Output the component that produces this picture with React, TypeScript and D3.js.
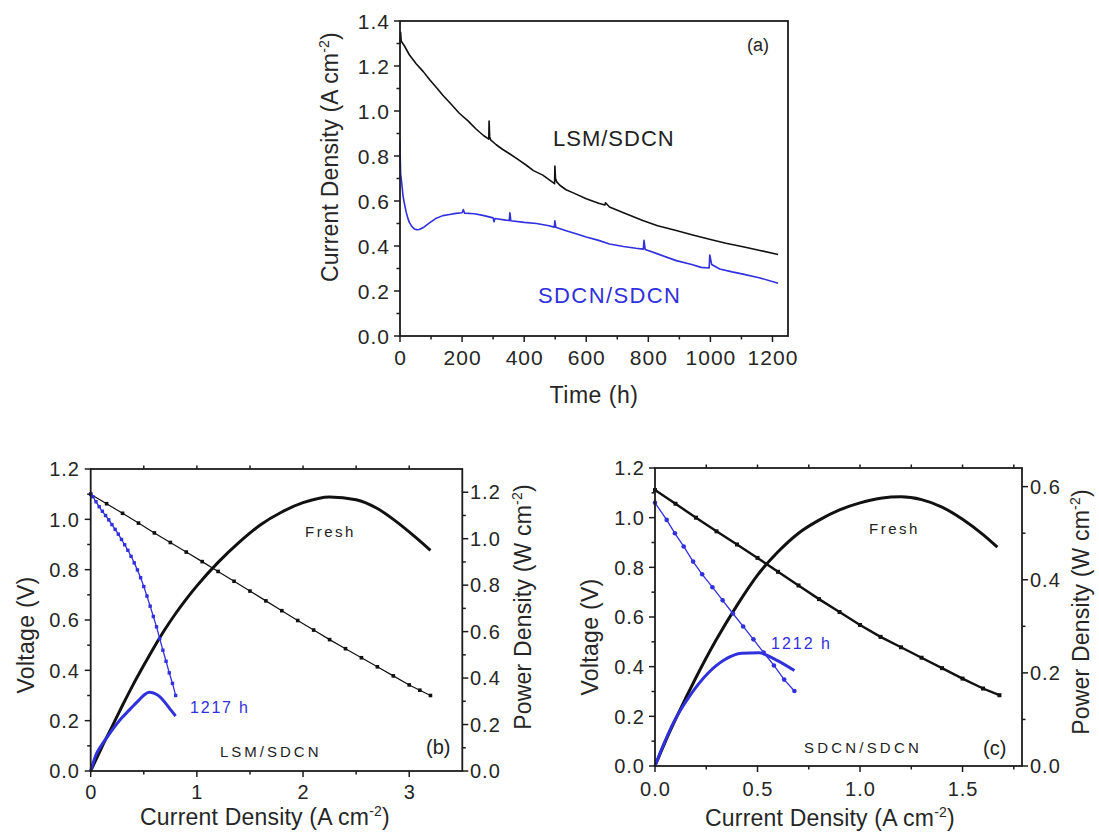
import React from 'react';
import * as d3 from 'd3';

const FONT = '"Liberation Sans", Arial, Helvetica, sans-serif';
const BLUE = '#3030dc';
const INK = '#1c1c1c';
const TXT = '#262626';

// ---------- panel (a): current density vs time ----------
const aLsmTime = [0, 2, 4, 14, 30, 52, 75, 95, 120, 138, 165, 191, 220, 245, 270, 286, 287, 289, 292, 310, 330, 353, 380, 406, 430, 460, 480, 498, 499, 501, 505, 515, 535, 560, 600, 640, 660, 662, 675, 720, 782, 830, 890, 940, 997, 1050, 1105, 1160, 1218];
const aLsmCurrent = [1.30, 1.35, 1.31, 1.29, 1.25, 1.21, 1.175, 1.14, 1.10, 1.07, 1.03, 0.99, 0.955, 0.92, 0.89, 0.875, 0.955, 0.885, 0.872, 0.85, 0.83, 0.81, 0.785, 0.76, 0.735, 0.715, 0.695, 0.677, 0.755, 0.70, 0.685, 0.67, 0.65, 0.635, 0.61, 0.59, 0.582, 0.592, 0.573, 0.548, 0.513, 0.49, 0.469, 0.45, 0.43, 0.412, 0.397, 0.38, 0.362];
const aSdcnTime = [0, 1, 2, 4, 7, 10, 14, 20, 25, 30, 38, 46, 55, 62, 75, 95, 115, 138, 160, 180, 200, 204, 208, 240, 267, 300, 303, 306, 340, 352, 354, 357, 400, 440, 480, 497, 499, 502, 530, 567, 600, 640, 675, 720, 760, 784, 786, 790, 830, 890, 940, 970, 996, 998, 1004, 1030, 1070, 1105, 1160, 1218];
const aSdcnCurrent = [0.87, 0.78, 0.72, 0.70, 0.66, 0.62, 0.59, 0.55, 0.525, 0.505, 0.487, 0.476, 0.472, 0.473, 0.482, 0.503, 0.522, 0.535, 0.54, 0.545, 0.548, 0.562, 0.546, 0.543, 0.536, 0.525, 0.508, 0.522, 0.515, 0.513, 0.548, 0.512, 0.505, 0.50, 0.49, 0.484, 0.512, 0.483, 0.47, 0.454, 0.44, 0.425, 0.409, 0.398, 0.39, 0.386, 0.425, 0.384, 0.365, 0.335, 0.318, 0.305, 0.302, 0.36, 0.318, 0.298, 0.285, 0.275, 0.258, 0.234];
const aTimeTicks = [0, 200, 400, 600, 800, 1000, 1200];
const aCurrentTicks = [0, 0.2, 0.4, 0.6, 0.8, 1.0, 1.2, 1.4];

// ---------- panel (b): LSM/SDCN I-V-P ----------
const bFreshI = [0, 0.15, 0.3, 0.45, 0.6, 0.75, 0.9, 1.05, 1.2, 1.35, 1.5, 1.65, 1.8, 1.95, 2.1, 2.25, 2.4, 2.55, 2.7, 2.85, 3.0, 3.1, 3.2];
const bFreshV = [1.10, 1.062, 1.024, 0.985, 0.946, 0.908, 0.870, 0.832, 0.793, 0.754, 0.715, 0.676, 0.637, 0.598, 0.560, 0.522, 0.486, 0.450, 0.414, 0.378, 0.342, 0.321, 0.300];
const bFreshPI = [0, 0.1, 0.2, 0.3, 0.4, 0.5, 0.6, 0.7, 0.8, 0.9, 1.0, 1.2, 1.4, 1.6, 1.8, 2.0, 2.25, 2.5, 2.7, 2.86, 3.05, 3.2];
const bFreshP = [0, 0.098, 0.19, 0.283, 0.372, 0.455, 0.535, 0.61, 0.678, 0.74, 0.797, 0.898, 0.985, 1.06, 1.115, 1.155, 1.18, 1.168, 1.13, 1.08, 1.01, 0.95];
const bAgedI = [0, 0.02, 0.05, 0.08, 0.11, 0.14, 0.17, 0.20, 0.23, 0.26, 0.29, 0.32, 0.35, 0.38, 0.41, 0.44, 0.47, 0.50, 0.53, 0.56, 0.59, 0.62, 0.65, 0.68, 0.71, 0.74, 0.77, 0.80];
const bAgedV = [1.10, 1.09, 1.07, 1.05, 1.032, 1.015, 0.998, 0.979, 0.960, 0.941, 0.920, 0.899, 0.877, 0.853, 0.827, 0.799, 0.768, 0.733, 0.695, 0.655, 0.614, 0.573, 0.526, 0.48, 0.436, 0.39, 0.348, 0.30];
const bAgedPI = [0, 0.05, 0.1, 0.15, 0.2, 0.25, 0.3, 0.35, 0.4, 0.45, 0.5, 0.55, 0.6, 0.65, 0.7, 0.75, 0.8];
const bAgedP = [0, 0.07, 0.11, 0.143, 0.175, 0.205, 0.232, 0.256, 0.28, 0.303, 0.326, 0.339, 0.334, 0.32, 0.295, 0.265, 0.237];
const bCurrentTicks = [0, 1, 2, 3];
const bVoltageTicks = [0, 0.2, 0.4, 0.6, 0.8, 1.0, 1.2];
const bPowerTicks = [0, 0.2, 0.4, 0.6, 0.8, 1.0, 1.2];

// ---------- panel (c): SDCN/SDCN I-V-P ----------
const cFreshI = [0, 0.1, 0.2, 0.3, 0.4, 0.5, 0.6, 0.7, 0.8, 0.9, 1.0, 1.1, 1.2, 1.3, 1.4, 1.5, 1.6, 1.68];
const cFreshV = [1.111, 1.056, 1.0, 0.945, 0.892, 0.838, 0.782, 0.727, 0.672, 0.62, 0.568, 0.52, 0.478, 0.436, 0.394, 0.352, 0.312, 0.285];
const cFreshPI = [0, 0.05, 0.1, 0.2, 0.3, 0.4, 0.5, 0.6, 0.7, 0.8, 0.9, 1.0, 1.1, 1.2, 1.3, 1.4, 1.5, 1.6, 1.67];
const cFreshP = [0, 0.052, 0.1, 0.19, 0.272, 0.345, 0.41, 0.46, 0.5, 0.528, 0.55, 0.565, 0.575, 0.578, 0.572, 0.556, 0.53, 0.497, 0.47];
const cAgedI = [0, 0.057, 0.097, 0.14, 0.186, 0.23, 0.28, 0.33, 0.38, 0.43, 0.48, 0.53, 0.58, 0.63, 0.68];
const cAgedV = [1.06, 0.991, 0.937, 0.884, 0.823, 0.772, 0.72, 0.667, 0.614, 0.562, 0.51, 0.457, 0.405, 0.348, 0.302];
const cAgedPI = [0, 0.038, 0.089, 0.172, 0.256, 0.339, 0.423, 0.506, 0.59, 0.68];
const cAgedP = [0, 0.042, 0.092, 0.152, 0.198, 0.228, 0.242, 0.243, 0.228, 0.205];
const cCurrentTicks = [0, 0.5, 1.0, 1.5];
const cVoltageTicks = [0, 0.2, 0.4, 0.6, 0.8, 1.0, 1.2];
const cPowerTicks = [0, 0.2, 0.4, 0.6];

type Scale = d3.ScaleLinear<number, number>;

function linePath(xs: number[], ys: number[], sx: Scale, sy: Scale, curve: d3.CurveFactory = d3.curveLinear) {
  const gen = d3.line<number>()
    .x((_, i) => sx(xs[i]))
    .y((_, i) => sy(ys[i]))
    .curve(curve);
  return gen(xs) || '';
}

function Ticks({ scale, values, at, len, orient }: { scale: Scale; values: number[]; at: number; len: number; orient: 'bottom' | 'top' | 'left' | 'right' }) {
  return (
    <g stroke={INK} strokeWidth={1.5}>
      {values.map((v, i) => {
        const p = scale(v);
        if (orient === 'bottom') return <line key={i} x1={p} x2={p} y1={at} y2={at + len} />;
        if (orient === 'top') return <line key={i} x1={p} x2={p} y1={at} y2={at - len} />;
        if (orient === 'left') return <line key={i} x1={at} x2={at - len} y1={p} y2={p} />;
        return <line key={i} x1={at} x2={at + len} y1={p} y2={p} />;
      })}
    </g>
  );
}

function XLabels({ scale, values, baseline, fmt, size }: { scale: Scale; values: number[]; baseline: number; fmt: (n: number) => string; size: number }) {
  return (
    <g fill={TXT} fontSize={size} letterSpacing={1} textAnchor="middle">
      {values.map((v, i) => (
        <text key={i} x={scale(v) + 0.5} y={baseline}>{fmt(v)}</text>
      ))}
    </g>
  );
}

function YLabels({ scale, values, x, anchor, fmt, size }: { scale: Scale; values: number[]; x: number; anchor: 'start' | 'end'; fmt: (n: number) => string; size: number }) {
  return (
    <g fill={TXT} fontSize={size} letterSpacing={1} textAnchor={anchor}>
      {values.map((v, i) => (
        <text key={i} x={x} y={scale(v)} dy="0.36em">{fmt(v)}</text>
      ))}
    </g>
  );
}

function UnitTitle({ x, y, rotate, pre, unit, anchor = 'middle' }: { x: number; y: number; rotate: boolean; pre: string; unit: string; anchor?: 'middle' | 'start' }) {
  return (
    <text
      transform={`translate(${x},${y})${rotate ? ' rotate(-90)' : ''}`}
      textAnchor={anchor}
      fontSize={23}
      fill={TXT}
      letterSpacing={0.2}
    >
      {pre}
      <tspan dy={-9} fontSize={14}>{unit}</tspan>
      <tspan dy={9}>)</tspan>
    </text>
  );
}

function Squares({ xs, ys, sx, sy, size, color }: { xs: number[]; ys: number[]; sx: Scale; sy: Scale; size: number; color: string }) {
  return (
    <g fill={color}>
      {xs.map((x, i) => (
        <rect key={i} x={sx(x) - size / 2} y={sy(ys[i]) - size / 2} width={size} height={size} />
      ))}
    </g>
  );
}

function Dots({ xs, ys, sx, sy, r, color }: { xs: number[]; ys: number[]; sx: Scale; sy: Scale; r: number; color: string }) {
  return (
    <g fill={color}>
      {xs.map((x, i) => (
        <circle key={i} cx={sx(x)} cy={sy(ys[i])} r={r} />
      ))}
    </g>
  );
}

function PanelA() {
  const L = 400, R = 788, T = 21, B = 336;
  const x = d3.scaleLinear().domain([0, 1250]).range([L, R]);
  const y = d3.scaleLinear().domain([0, 1.4]).range([B, T]);
  const minorX = d3.range(100, 1250, 200);
  const minorY = d3.range(0.1, 1.4, 0.2);
  return (
    <g>
      <path d={linePath(aLsmTime, aLsmCurrent, x, y)} fill="none" stroke="#111" strokeWidth={1.6} strokeLinejoin="round" />
      <path d={linePath(aSdcnTime, aSdcnCurrent, x, y)} fill="none" stroke={BLUE} strokeWidth={1.6} strokeLinejoin="round" />
      <rect x={L} y={T} width={R - L} height={B - T} fill="none" stroke={INK} strokeWidth={1.8} />
      <Ticks scale={x} values={aTimeTicks} at={B} len={6} orient="bottom" />
      <Ticks scale={x} values={minorX} at={B} len={3.5} orient="bottom" />
      <Ticks scale={y} values={aCurrentTicks} at={L} len={6} orient="left" />
      <Ticks scale={y} values={minorY} at={L} len={3.5} orient="left" />
      <XLabels scale={x} values={aTimeTicks} baseline={365} fmt={d3.format('d')} size={21} />
      <YLabels scale={y} values={aCurrentTicks} x={390} anchor="end" fmt={d3.format('.1f')} size={21} />
      <text x={594} y={403} textAnchor="middle" fontSize={23} fill={TXT} letterSpacing={0.5}>Time (h)</text>
      <UnitTitle x={338} y={157} rotate pre="Current Density (A cm" unit="-2" />
      <text x={553} y={146} fontSize={22} fill="#222" letterSpacing={1}>LSM/SDCN</text>
      <text x={538} y={303} fontSize={22} fill={BLUE} letterSpacing={1.4}>SDCN/SDCN</text>
      <text x={747} y={51} fontSize={18} fill="#222">(a)</text>
    </g>
  );
}

function PanelB() {
  const L = 90.7, R = 462.3, T = 469, B = 771;
  const x = d3.scaleLinear().domain([0, 3.5]).range([L, R]);
  const y = d3.scaleLinear().domain([0, 1.2]).range([B, T]);
  const p = d3.scaleLinear().domain([0, 1.3]).range([B, T]);
  const minorX = d3.range(0.5, 3.5, 1);
  const minorY = d3.range(0.1, 1.2, 0.2);
  const minorP = d3.range(0.1, 1.3, 0.2);
  const topTicks = d3.range(0.5, 3.5, 0.5);
  return (
    <g>
      <path d={linePath(bFreshI, bFreshV, x, y)} fill="none" stroke="#111" strokeWidth={1.2} />
      <Squares xs={bFreshI} ys={bFreshV} sx={x} sy={y} size={3.6} color="#111" />
      <path d={linePath(bFreshPI, bFreshP, x, p, d3.curveMonotoneX)} fill="none" stroke="#111" strokeWidth={3} />
      <path d={linePath(bAgedI, bAgedV, x, y, d3.curveMonotoneX)} fill="none" stroke={BLUE} strokeWidth={1.3} />
      <Squares xs={bAgedI} ys={bAgedV} sx={x} sy={y} size={3.4} color={BLUE} />
      <path d={linePath(bAgedPI, bAgedP, x, p, d3.curveMonotoneX)} fill="none" stroke={BLUE} strokeWidth={3} />
      <rect x={L} y={T} width={R - L} height={B - T} fill="none" stroke={INK} strokeWidth={1.8} />
      <Ticks scale={x} values={bCurrentTicks} at={B} len={6} orient="bottom" />
      <Ticks scale={x} values={minorX} at={B} len={3.5} orient="bottom" />
      <Ticks scale={x} values={topTicks} at={T} len={3.5} orient="top" />
      <Ticks scale={y} values={bVoltageTicks} at={L} len={6} orient="left" />
      <Ticks scale={y} values={minorY} at={L} len={3.5} orient="left" />
      <Ticks scale={p} values={bPowerTicks} at={R} len={6} orient="right" />
      <Ticks scale={p} values={minorP} at={R} len={3.5} orient="right" />
      <XLabels scale={x} values={bCurrentTicks} baseline={799} fmt={d3.format('d')} size={20} />
      <YLabels scale={y} values={bVoltageTicks} x={80} anchor="end" fmt={d3.format('.1f')} size={20} />
      <YLabels scale={p} values={bPowerTicks} x={470} anchor="start" fmt={d3.format('.1f')} size={20} />
      <text transform="translate(34,635) rotate(-90)" textAnchor="middle" fontSize={23} fill={TXT} letterSpacing={0.3}>Voltage (V)</text>
      <UnitTitle x={140} y={825} rotate={false} anchor="start" pre="Current Density (A cm" unit="-2" />
      <UnitTitle x={531} y={607} rotate pre="Power Density (W cm" unit="-2" />
      <text x={305} y={537} fontSize={15} fill="#222" letterSpacing={2.5}>Fresh</text>
      <text x={190} y={713} fontSize={16} fill={BLUE} letterSpacing={1.8}>1217 h</text>
      <text x={220} y={757} fontSize={15} fill="#222" letterSpacing={3}>LSM/SDCN</text>
      <text x={426} y={754} fontSize={20} fill="#222">(b)</text>
    </g>
  );
}

function PanelC() {
  const L = 655, R = 1022, T = 468, B = 766;
  const x = d3.scaleLinear().domain([0, 1.79]).range([L, R]);
  const y = d3.scaleLinear().domain([0, 1.2]).range([B, T]);
  const p = d3.scaleLinear().domain([0, 0.64]).range([B, T]);
  const minorX = d3.range(0.25, 1.79, 0.5);
  const minorY = d3.range(0.1, 1.2, 0.2);
  const minorP = d3.range(0.1, 0.64, 0.2);
  const topTicks = d3.range(0.25, 1.79, 0.25);
  return (
    <g>
      <path d={linePath(cFreshI, cFreshV, x, y)} fill="none" stroke="#111" strokeWidth={2.4} />
      <Squares xs={cFreshI} ys={cFreshV} sx={x} sy={y} size={4} color="#111" />
      <path d={linePath(cFreshPI, cFreshP, x, p, d3.curveMonotoneX)} fill="none" stroke="#111" strokeWidth={3} />
      <path d={linePath(cAgedI, cAgedV, x, y)} fill="none" stroke={BLUE} strokeWidth={1.3} />
      <Dots xs={cAgedI} ys={cAgedV} sx={x} sy={y} r={2.3} color={BLUE} />
      <path d={linePath(cAgedPI, cAgedP, x, p, d3.curveMonotoneX)} fill="none" stroke={BLUE} strokeWidth={3} />
      <rect x={L} y={T} width={R - L} height={B - T} fill="none" stroke={INK} strokeWidth={1.8} />
      <Ticks scale={x} values={cCurrentTicks} at={B} len={6} orient="bottom" />
      <Ticks scale={x} values={minorX} at={B} len={3.5} orient="bottom" />
      <Ticks scale={x} values={topTicks} at={T} len={3.5} orient="top" />
      <Ticks scale={y} values={cVoltageTicks} at={L} len={6} orient="left" />
      <Ticks scale={y} values={minorY} at={L} len={3.5} orient="left" />
      <Ticks scale={p} values={cPowerTicks} at={R} len={6} orient="right" />
      <Ticks scale={p} values={minorP} at={R} len={3.5} orient="right" />
      <XLabels scale={x} values={cCurrentTicks} baseline={796} fmt={d3.format('.1f')} size={20} />
      <YLabels scale={y} values={cVoltageTicks} x={645} anchor="end" fmt={d3.format('.1f')} size={20} />
      <YLabels scale={p} values={cPowerTicks} x={1030} anchor="start" fmt={d3.format('.1f')} size={20} />
      <text transform="translate(598,637) rotate(-90)" textAnchor="middle" fontSize={23} fill={TXT} letterSpacing={0.3}>Voltage (V)</text>
      <UnitTitle x={705} y={826} rotate={false} anchor="start" pre="Current Density (A cm" unit="-2" />
      <UnitTitle x={1089} y={612} rotate pre="Power Density (W cm" unit="-2" />
      <text x={869} y={534} fontSize={15} fill="#222" letterSpacing={2.5}>Fresh</text>
      <text x={771} y={649} fontSize={16} fill={BLUE} letterSpacing={2}>1212 h</text>
      <text x={804} y={753} fontSize={15} fill="#222" letterSpacing={3.2}>SDCN/SDCN</text>
      <text x={983} y={755} fontSize={20} fill="#222">(c)</text>
    </g>
  );
}

export default function App() {
  return (
    <svg
      width={1099}
      height={832}
      viewBox="0 0 1099 832"
      style={{ position: 'absolute', left: 0, top: 0, background: '#fff' }}
      fontFamily={FONT}
    >
      <rect x={0} y={0} width={1099} height={832} fill="#fff" />
      <PanelA />
      <PanelB />
      <PanelC />
    </svg>
  );
}
